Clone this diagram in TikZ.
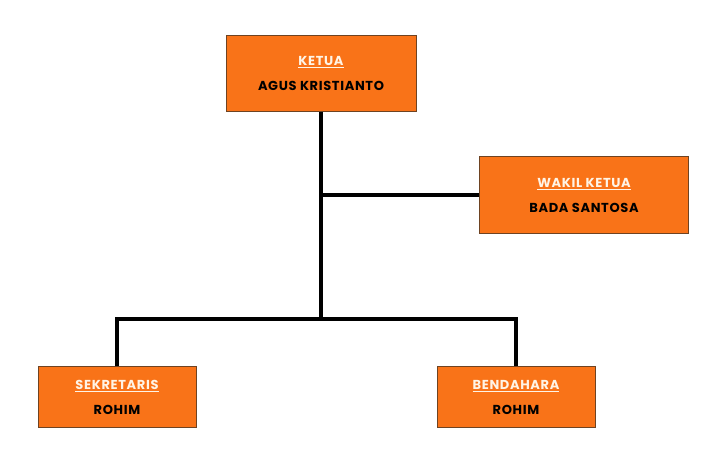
\documentclass[tikz,border=0pt]{standalone}
\usepackage{fontspec}
\setmainfont{Poppins}[BoldFont={* Bold}, LetterSpace=5]
\usepackage{tikz}
\usetikzlibrary{positioning}
\definecolor{boxorange}{HTML}{F97318}
\definecolor{boxedge}{HTML}{6E4322}
\definecolor{titlecream}{HTML}{FFF4E6}

\tikzset{
  orgbox/.style={draw=boxedge, line width=1pt, fill=boxorange, align=center,
    inner sep=0pt, font=\fontsize{13}{15}\selectfont\bfseries},
  orgline/.style={line width=4pt, black}
}
\newcommand{\jabatan}[1]{\textcolor{titlecream}{\underline{#1}}}

\begin{document}
\begin{tikzpicture}[x=1pt, y=-1pt]
  \useasboundingbox (0,0) rectangle (724,470);

  % --- Boxes ---
  \node[orgbox, minimum width=190pt, minimum height=76pt] (ketua) at (321,73.5)
    {\jabatan{KETUA}\\[10pt]AGUS KRISTIANTO};
  \node[orgbox, minimum width=209pt, minimum height=77pt] (wakil) at (584,195.5)
    {\jabatan{WAKIL KETUA}\\[10pt]BADA SANTOSA};
  \node[orgbox, minimum width=158pt, minimum height=61pt] (sekretaris) at (117,397.5)
    {\jabatan{SEKRETARIS}\\[10pt]ROHIM};
  \node[orgbox, minimum width=158pt, minimum height=61pt] (bendahara) at (516,397.5)
    {\jabatan{BENDAHARA}\\[10pt]ROHIM};

  % --- Connectors ---
  \coordinate (cabang) at (321,319);
  \draw[orgline] (ketua.south) -- (cabang);
  \draw[orgline] (ketua.south |- wakil.west) -- (wakil.west);
  \draw[orgline] (sekretaris.north) |- (cabang) -| (bendahara.north);
\end{tikzpicture}
\end{document}
